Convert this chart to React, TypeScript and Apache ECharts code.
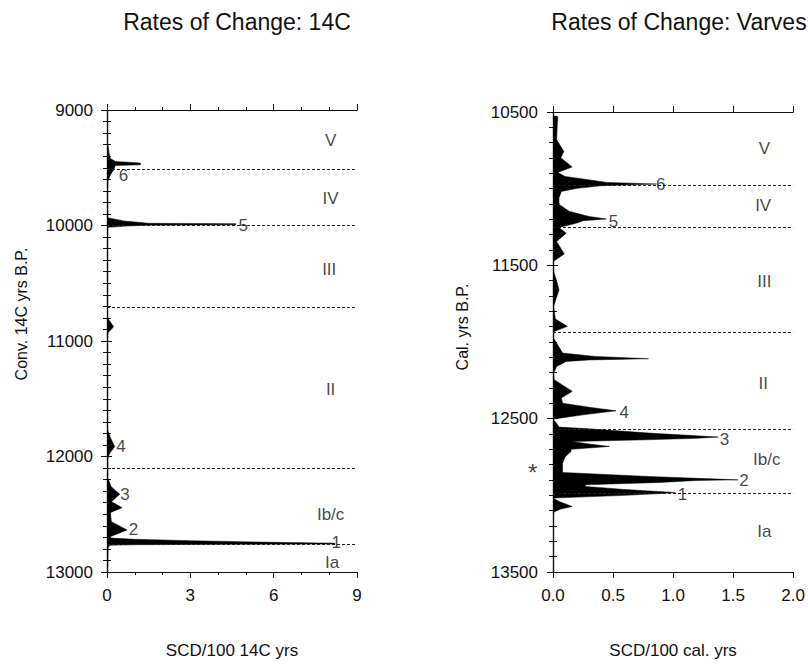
import React, { useEffect, useRef } from "react";
import * as echarts from "echarts";

// ---------- data ----------
// Left panel: rate of change (SCD/100 14C yrs) vs Conv. 14C yrs B.P.
const LEFT_YRS = [
  9300, 9380, 9420, 9445, 9459, 9475, 9480, 9519, 9563, 9610, 9700,
  9932, 9960, 9981, 9984, 9994, 9997, 10005, 10016, 10100,
  10800, 10876, 10930, 11000,
  11770, 11850, 11915, 11970, 12015, 12186, 12261, 12327, 12391, 12443, 12486, 12564, 12636, 12699,
  12705, 12711, 12717, 12729, 12743, 12750, 12757, 12760, 12764, 12768, 12790, 12950,
];
const LEFT_VALS = [
  0.03, 0.08, 0.12, 0.3, 1.2, 1.2, 0.3, 0.24, 0.12, 0.04, 0.02,
  0.03, 0.6, 1.5, 4.64, 4.64, 1.5, 0.7, 0.03, 0.02,
  0.02, 0.24, 0.03, 0.02,
  0.02, 0.15, 0.28, 0.1, 0.03, 0.03, 0.15, 0.46, 0.16, 0.55, 0.12, 0.16, 0.72, 0.07,
  0.1, 0.5, 1.0, 3.0, 6.0, 8.2, 8.2, 4.5, 1.0, 0.1, 0.04, 0.03,
];

// Right panel: rate of change (SCD/100 cal. yrs) vs Cal. yrs B.P.
const RIGHT_YRS = [
  10525, 10530, 10600, 10680, 10757, 10798, 10859, 10894, 10920, 10937, 10959, 10970, 10981, 10998, 11018,
  11060, 11092, 11105, 11148, 11181, 11198, 11209, 11224, 11253, 11290, 11344, 11426, 11474, 11529,
  11600, 11659, 11768, 11850, 11898, 11931, 11970, 12007, 12072, 12094, 12109, 12117, 12127, 12159,
  12203, 12246, 12322, 12366, 12399, 12425, 12449, 12475, 12503, 12530, 12555, 12566, 12594, 12620,
  12628, 12638, 12649, 12665, 12681, 12700, 12714, 12750, 12790, 12851, 12877, 12899, 12903, 12916,
  12931, 12942, 12962, 12982, 12988, 13000, 13010, 13018, 13040, 13073, 13090, 13112,
];
const RIGHT_VALS = [
  0.0, 0.04, 0.035, 0.03, 0.09, 0.065, 0.16, 0.04, 0.1, 0.25, 0.45, 0.86, 0.4, 0.2, 0.07,
  0.05, 0.05, 0.055, 0.135, 0.3, 0.445, 0.25, 0.2, 0.05, 0.11, 0.03, 0.094, 0.005, 0.0,
  0.03, 0.05, 0.005, 0.02, 0.12, 0.01, 0.0, 0.03, 0.08, 0.35, 0.795, 0.3, 0.11, 0.03,
  0.005, 0.01, 0.16, 0.07, 0.08, 0.3, 0.525, 0.25, 0.0, 0.03, 0.05, 0.3, 0.8, 1.375,
  1.2, 0.77, 0.16, 0.3, 0.47, 0.15, 0.15, 0.1, 0.08, 0.08, 0.8, 1.54, 1.2, 0.89,
  0.27, 0.27, 0.6, 1.02, 0.9, 0.6, 0.27, 0.0, 0.05, 0.16, 0.06, 0.0,
];

// Zone boundaries (dashed) and zone names
const ZONE_NAMES = ["V", "IV", "III", "II", "Ib/c", "Ia"];
const LEFT_ZONE_BOUNDS = [9510, 10000, 10705, 12100, 12760];
const RIGHT_ZONE_BOUNDS = [10975, 11252, 11935, 12568, 12985];
const LEFT_ZONE_LABEL_X = [8.05, 8.05, 8.0, 8.05, 8.05, 8.1];
const LEFT_ZONE_LABEL_YRS = [9260, 9762, 10385, 11420, 12500, 12915];
const RIGHT_ZONE_LABEL_X = [1.76, 1.75, 1.76, 1.75, 1.78, 1.76];
const RIGHT_ZONE_LABEL_YRS = [10735, 11111, 11605, 12268, 12768, 13236];

// Numbered peaks
const PEAK_NAMES = ["1", "2", "3", "4", "5", "6"];
const LEFT_PEAK_X = [8.25, 0.95, 0.65, 0.5, 4.9, 0.59];
const LEFT_PEAK_YRS = [12743, 12636, 12333, 11915, 10004, 9563];
const RIGHT_PEAK_X = [1.078, 1.59, 1.428, 0.593, 0.504, 0.897];
const RIGHT_PEAK_YRS = [12992, 12903, 12633, 12463, 11214, 10974];

// Star marker next to the right axis
const STAR_X = [-0.17];
const STAR_YRS = [12850];

const FONT = "'Liberation Sans', Arial, Helvetica, sans-serif";
const INK = "#111";

function profileSeries(xi: number, yi: number, yrs: number[], vals: number[]) {
  return {
    type: "custom",
    xAxisIndex: xi,
    yAxisIndex: yi,
    silent: true,
    clip: true,
    z: 3,
    data: [[0, yrs[0]]],
    renderItem: (_params: any, api: any) => {
      const pts: number[][] = [api.coord([0, yrs[0]])];
      for (let i = 0; i < yrs.length; i++) pts.push(api.coord([vals[i], yrs[i]]));
      pts.push(api.coord([0, yrs[yrs.length - 1]]));
      return {
        type: "polygon",
        shape: { points: pts },
        style: { fill: "#000", stroke: "#000", lineWidth: 0.5 },
      };
    },
  };
}

function labelSeries(
  xi: number,
  yi: number,
  xs: number[],
  ys: number[],
  names: string[],
  fontSize: number,
  extra: any = {}
) {
  return {
    type: "scatter",
    xAxisIndex: xi,
    yAxisIndex: yi,
    silent: true,
    z: 6,
    symbolSize: 1,
    itemStyle: { color: "rgba(0,0,0,0)" },
    data: xs.map((x, i) => ({ value: [x, ys[i]], name: names[i] })),
    label: {
      show: true,
      position: "inside",
      formatter: "{b}",
      color: INK,
      fontSize,
      fontFamily: FONT,
    },
    ...extra,
  };
}

function zoneLines(xi: number, yi: number, bounds: number[]) {
  return {
    type: "scatter",
    xAxisIndex: xi,
    yAxisIndex: yi,
    silent: true,
    z: 2,
    data: [],
    markLine: {
      silent: true,
      symbol: "none",
      label: { show: false },
      lineStyle: { color: "#222", type: [3, 2], width: 1 },
      data: bounds.map((b) => ({ yAxis: b })),
    },
  };
}

const axisLineStyle = { show: true, lineStyle: { color: INK, width: 1.2 } };
const tickStyle = { color: INK, width: 1 };
const plain = (v: number) => String(v);

export default function App() {
  const ref = useRef<HTMLDivElement>(null);

  useEffect(() => {
    if (!ref.current) return;
    const chart = echarts.init(ref.current, undefined, { renderer: "svg" });

    const option: any = {
      animation: false,
      backgroundColor: "#fff",
      title: [
        {
          text: "Rates of Change: 14C",
          left: 232,
          top: 5,
          textAlign: "center",
          textStyle: { fontFamily: FONT, fontSize: 23, fontWeight: "normal", color: INK },
        },
        {
          text: "Rates of Change: Varves",
          left: 674,
          top: 5,
          textAlign: "center",
          textStyle: { fontFamily: FONT, fontSize: 23, fontWeight: "normal", color: INK },
        },
      ],
      grid: [
        { left: 107, right: 451, top: 110, bottom: 93 },
        { left: 553, right: 7, top: 112, bottom: 93 },
      ],
      xAxis: [
        {
          gridIndex: 0,
          type: "value",
          position: "bottom",
          min: 0,
          max: 9,
          interval: 3,
          axisLine: axisLineStyle,
          axisTick: { show: true, length: 6, lineStyle: tickStyle },
          minorTick: { show: true, splitNumber: 3, length: 3, lineStyle: tickStyle },
          splitLine: { show: false },
          axisLabel: { fontFamily: FONT, fontSize: 17, color: INK, margin: 15, formatter: plain },
          name: "SCD/100 14C yrs",
          nameLocation: "middle",
          nameGap: 70,
          nameTextStyle: { fontFamily: FONT, fontSize: 17, color: INK },
        },
        {
          gridIndex: 0,
          type: "value",
          position: "top",
          min: 0,
          max: 9,
          interval: 3,
          axisLine: axisLineStyle,
          axisTick: { show: true, length: 6, lineStyle: tickStyle },
          minorTick: { show: true, splitNumber: 3, length: 3, lineStyle: tickStyle },
          splitLine: { show: false },
          axisLabel: { show: false },
        },
        {
          gridIndex: 1,
          type: "value",
          position: "bottom",
          min: 0,
          max: 2,
          interval: 0.5,
          axisLine: axisLineStyle,
          axisTick: { show: true, length: 6, lineStyle: tickStyle },
          splitLine: { show: false },
          axisLabel: {
            fontFamily: FONT,
            fontSize: 17,
            color: INK,
            margin: 15,
            formatter: (v: number) => v.toFixed(1),
          },
          name: "SCD/100 cal. yrs",
          nameLocation: "middle",
          nameGap: 70,
          nameTextStyle: { fontFamily: FONT, fontSize: 17, color: INK },
        },
        {
          gridIndex: 1,
          type: "value",
          position: "top",
          min: 0,
          max: 2,
          interval: 0.5,
          axisLine: axisLineStyle,
          axisTick: { show: true, length: 6, lineStyle: tickStyle },
          splitLine: { show: false },
          axisLabel: { show: false },
        },
      ],
      yAxis: [
        {
          gridIndex: 0,
          type: "value",
          position: "left",
          inverse: true,
          min: 9000,
          max: 13000,
          interval: 1000,
          axisLine: axisLineStyle,
          axisTick: { show: true, length: 6, lineStyle: tickStyle },
          minorTick: { show: true, splitNumber: 10, length: 4, lineStyle: tickStyle },
          splitLine: { show: false },
          axisLabel: { fontFamily: FONT, fontSize: 17, color: INK, margin: 14, formatter: plain },
          name: "Conv. 14C yrs B.P.",
          nameLocation: "middle",
          nameRotate: 90,
          nameGap: 78,
          nameTextStyle: { fontFamily: FONT, fontSize: 16, color: INK, padding: [0, 0, 0, 54] },
        },
        {
          gridIndex: 0,
          type: "value",
          position: "right",
          inverse: true,
          min: 9000,
          max: 13000,
          interval: 1000,
          axisLine: axisLineStyle,
          axisTick: { show: true, length: 5, lineStyle: tickStyle },
          minorTick: { show: true, splitNumber: 10, length: 4, lineStyle: tickStyle },
          splitLine: { show: false },
          axisLabel: { show: false },
        },
        {
          gridIndex: 1,
          type: "value",
          position: "left",
          inverse: true,
          min: 10500,
          max: 13500,
          interval: 1000,
          axisLine: axisLineStyle,
          axisTick: { show: true, length: 6, lineStyle: tickStyle },
          minorTick: { show: true, splitNumber: 10, length: 4, lineStyle: tickStyle },
          splitLine: { show: false },
          axisLabel: { fontFamily: FONT, fontSize: 17, color: INK, margin: 15, formatter: plain },
          name: "Cal. yrs B.P.",
          nameLocation: "middle",
          nameRotate: 90,
          nameGap: 83,
          nameTextStyle: { fontFamily: FONT, fontSize: 16, color: INK, padding: [0, 0, 0, 30] },
        },
        {
          gridIndex: 1,
          type: "value",
          position: "right",
          inverse: true,
          min: 10500,
          max: 13500,
          interval: 1000,
          axisLine: axisLineStyle,
          axisTick: { show: true, length: 5, lineStyle: tickStyle },
          minorTick: { show: true, splitNumber: 10, length: 4, lineStyle: tickStyle },
          splitLine: { show: false },
          axisLabel: { show: false },
        },
      ],
      series: [
        zoneLines(0, 0, LEFT_ZONE_BOUNDS),
        zoneLines(2, 2, RIGHT_ZONE_BOUNDS),
        profileSeries(0, 0, LEFT_YRS, LEFT_VALS),
        profileSeries(2, 2, RIGHT_YRS, RIGHT_VALS),
        labelSeries(0, 0, LEFT_ZONE_LABEL_X, LEFT_ZONE_LABEL_YRS, ZONE_NAMES, 17),
        labelSeries(2, 2, RIGHT_ZONE_LABEL_X, RIGHT_ZONE_LABEL_YRS, ZONE_NAMES, 17),
        labelSeries(0, 0, LEFT_PEAK_X, LEFT_PEAK_YRS, PEAK_NAMES, 17),
        labelSeries(2, 2, RIGHT_PEAK_X, RIGHT_PEAK_YRS, PEAK_NAMES, 17),
        labelSeries(2, 2, STAR_X, STAR_YRS, ["*"], 24, { clip: false }),
      ],
    };

    chart.setOption(option);
    return () => chart.dispose();
  }, []);

  return (
    <div
      ref={ref}
      style={{ position: "fixed", left: 0, top: 0, width: 808, height: 665, background: "#fff" }}
    />
  );
}
